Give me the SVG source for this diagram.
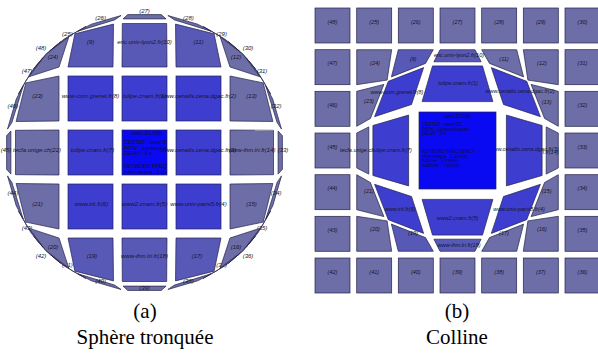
<svg xmlns="http://www.w3.org/2000/svg" width="598" height="353" viewBox="0 0 598 353">
<style>
.r0{fill:#0a0af2;stroke:#24244a;stroke-width:0.7}
.r1{fill:#3d3dcf;stroke:#24244a;stroke-width:0.7}
.r2{fill:#5858b6;stroke:#24244a;stroke-width:0.7}
.r3{fill:#6d6da8;stroke:#24244a;stroke-width:0.7}
.l{font-family:"Liberation Sans",Arial,sans-serif;font-style:italic;font-size:6px;fill:#15152a;text-anchor:middle}
.lb{font-family:"Liberation Sans",Arial,sans-serif;font-style:italic;font-size:5.5px;fill:#15152a;text-anchor:middle}
.ct{font-family:"Liberation Sans",Arial,sans-serif;font-size:5.2px;fill:#101030}
.ctb{font-family:"Liberation Sans",Arial,sans-serif;font-size:4.5px;fill:#101030}
.cap{font-family:"Liberation Serif","Times New Roman",serif;font-size:21px;fill:#000;text-anchor:middle}
</style>
<defs>
<clipPath id="clipA0"><rect x="122" y="130" width="45" height="45"/></clipPath>
</defs>
<rect width="598" height="353" fill="#fff"/>

<!-- ===== Panel (a) : Sphere tronquee ===== -->
<g id="panel-a">
<g id="a48"><polygon class="r3" points="46.2,54.2 60.7,41.6 46.2,54.2 33.6,68.7"/><text class="l" x="41" y="50">(48)</text></g>
<g id="a25"><polygon class="r3" points="64.2,39 86.1,26.4 72.1,34.3 49.6,51"/><text class="l" x="67.4" y="35.8">(25)</text></g>
<g id="a26"><polygon class="r3" points="91.3,24.2 121.1,15.5 114.6,19.9 78,31.2"/><text class="l" x="100.6" y="19.8">(26)</text></g>
<g id="a27"><polygon class="r3" points="127.7,14.6 161.3,14.6 166.1,18.9 123,18.9"/><text class="l" x="144.5" y="13">(27)</text></g>
<g id="a28"><polygon class="r3" points="167.9,15.5 197.7,24.2 211,31.2 174.4,19.9"/><text class="l" x="188.4" y="19.8">(28)</text></g>
<g id="a29"><polygon class="r3" points="202.9,26.4 224.8,39 239.4,51 216.9,34.3"/><text class="l" x="221.6" y="35.8">(29)</text></g>
<g id="a30"><polygon class="r3" points="228.3,41.6 242.8,54.2 255.4,68.7 242.8,54.2"/><text class="l" x="248" y="50">(30)</text></g>
<g id="a31"><polygon class="r3" points="246,57.6 258,72.2 270.6,94.1 262.7,80.1"/><text class="l" x="262" y="73">(31)</text></g>
<g id="a32"><polygon class="r3" points="272.8,99.3 281.5,129.1 277.1,122.6 265.8,86"/><text class="l" x="276.2" y="107.6">(32)</text></g>
<g id="a33"><polygon class="r3" points="282.4,135.7 282.4,169.3 278.1,174.1 278.1,131"/><text class="l" x="283" y="151.5">(33)</text></g>
<g id="a34"><polygon class="r3" points="272.8,205.7 281.5,175.9 277.1,182.4 265.8,219"/><text class="l" x="276.2" y="195.4">(34)</text></g>
<g id="a35"><polygon class="r3" points="246,247.4 258,232.8 270.6,210.9 262.7,224.9"/><text class="l" x="262" y="230">(35)</text></g>
<g id="a36"><polygon class="r3" points="228.3,263.4 242.8,250.8 255.4,236.3 242.8,250.8"/><text class="l" x="248" y="258">(36)</text></g>
<g id="a37"><polygon class="r3" points="202.9,278.6 224.8,266 239.4,254 216.9,270.7"/><text class="l" x="221.6" y="267.2">(37)</text></g>
<g id="a38"><polygon class="r3" points="167.9,289.5 197.7,280.8 211,273.8 174.4,285.1"/><text class="l" x="188.4" y="283.2">(38)</text></g>
<g id="a39"><polygon class="r3" points="127.7,290.4 161.3,290.4 166.1,286.1 123,286.1"/><text class="l" x="144.5" y="290">(39)</text></g>
<g id="a40"><polygon class="r3" points="91.3,280.8 121.1,289.5 114.6,285.1 78,273.8"/><text class="l" x="100.6" y="283.2">(40)</text></g>
<g id="a41"><polygon class="r3" points="64.2,266 86.1,278.6 72.1,270.7 49.6,254"/><text class="l" x="67.4" y="267.2">(41)</text></g>
<g id="a42"><polygon class="r3" points="46.2,250.8 60.7,263.4 46.2,250.8 33.6,236.3"/><text class="l" x="41" y="258">(42)</text></g>
<g id="a43"><polygon class="r3" points="31,232.8 43,247.4 26.3,224.9 18.4,210.9"/><text class="l" x="27" y="230">(43)</text></g>
<g id="a44"><polygon class="r3" points="16.2,205.7 7.5,175.9 11.9,182.4 23.2,219"/><text class="l" x="12.8" y="195.4">(44)</text></g>
<g id="a45"><polygon class="r3" points="6.6,135.7 6.6,169.3 10.9,174.1 10.9,131"/><text class="l" x="6" y="151.5">(45)</text></g>
<g id="a46"><polygon class="r3" points="16.2,99.3 7.5,129.1 11.9,122.6 23.2,86"/><text class="l" x="12.8" y="107.6">(46)</text></g>
<g id="a47"><polygon class="r3" points="31,72.2 43,57.6 26.3,80.1 18.4,94.1"/><text class="l" x="27" y="73">(47)</text></g>

<g id="a24"><polygon class="r3" points="46.2,54.2 68.8,36.9 59,67 28.9,76.8"/><text class="l" x="53" y="59">(24)</text></g>
<g id="a9"><polygon class="r2" points="74.9,33.8 113.5,24.1 113,67 68,67"/><text class="l" x="90.5" y="43.5">(9)</text></g>
<g id="a10"><polygon class="r2" points="122.3,23.5 166.7,23.5 167,67 122,67"/><text class="l" x="144.5" y="43.5">eric.univ-lyon2.fr(10)</text></g>
<g id="a11"><polygon class="r2" points="175.5,24.1 214.1,33.8 221,67 176,67"/><text class="l" x="198.5" y="43.5">(11)</text></g>
<g id="a12"><polygon class="r3" points="220.2,36.9 242.8,54.2 260.1,76.8 230,67"/><text class="l" x="236" y="59">(12)</text></g>
<g id="a23"><polygon class="r3" points="25.8,82.9 59,76 59,121 16.1,121.5"/><text class="l" x="37.5" y="97.5">(23)</text></g>
<g id="a13"><polygon class="r3" points="230,76 263.2,82.9 272.9,121.5 230,121"/><text class="l" x="251.5" y="97.5">(13)</text></g>
<g id="a22"><polygon class="r3" points="15.5,130.3 59,130 59,175 15.5,174.7"/><text class="l" x="37" y="151.5">tecfa.unige.ch(22)</text></g>
<g id="a21"><polygon class="r3" points="16.1,183.5 59,184 59,229 25.8,222.1"/><text class="l" x="37.5" y="205.5">(21)</text></g>
<g id="a15"><polygon class="r3" points="230,184 272.9,183.5 263.2,222.1 230,229"/><text class="l" x="251.5" y="205.5">(15)</text></g>
<g id="a20"><polygon class="r3" points="28.9,228.2 59,238 68.8,268.1 46.2,250.8"/><text class="l" x="53" y="249">(20)</text></g>
<g id="a19"><polygon class="r2" points="68,238 113,238 113.5,280.9 74.9,271.2"/><text class="l" x="92" y="258">(19)</text></g>
<g id="a18"><polygon class="r2" points="122,238 167,238 166.7,281.5 122.3,281.5"/><text class="l" x="144.5" y="258">www-ihm.lri.fr(18)</text></g>
<g id="a17"><polygon class="r2" points="176,238 221,238 214.1,271.2 175.5,280.9"/><text class="l" x="197" y="258">(17)</text></g>
<g id="a16"><polygon class="r3" points="230,238 260.1,228.2 242.8,250.8 220.2,268.1"/><text class="l" x="236" y="249">(16)</text></g>
<g id="a14"><polygon class="r3" points="230,130 273.5,130.3 273.5,174.7 230,175"/><text class="l" x="252" y="151.5">www-ihm.lri.fr(14)</text></g>

<g id="a8"><rect class="r1" x="68" y="76" width="45" height="45"/><text class="l" x="90.5" y="97.5">www-com.grenet.fr(8)</text></g>
<g id="a1"><rect class="r1" x="122" y="76" width="45" height="45"/><text class="l" x="144.5" y="97.5">tulipe.cnam.fr(1)</text></g>
<g id="a2"><rect class="r1" x="176" y="76" width="45" height="45"/><text class="l" x="198.5" y="97.5">www.cenatls.cena.dgac.fr(2)</text></g>
<g id="a7"><rect class="r1" x="68" y="130" width="45" height="45"/><text class="l" x="92.5" y="151.5">tulipe.cnam.fr(7)</text></g>
<g id="a0"><rect class="r0" x="122" y="130" width="45" height="45"/>
<text class="ct" x="147" y="135" text-anchor="middle">www.i3S.fr(0)</text>
<g clip-path="url(#clipA0)">
<text class="ct" x="124" y="144">CENTER : www.i3S</text>
<text class="ct" x="124" y="149.5">PATH : /contenu/equipe/</text>
<text class="ct" x="124" y="155">DELAY : 0 s</text>
<text class="ct" x="124" y="168">KEYWORD FREQUENCY :</text>
<text class="ct" x="124" y="173.5">informatique : 1 time(s)</text>
</g></g>
<g id="a3"><rect class="r1" x="176" y="130" width="45" height="45"/><text class="l" x="198.5" y="151.5">www.cenatls.cena.dgac.fr(3)</text></g>
<g id="a6"><rect class="r1" x="68" y="184" width="45" height="45"/><text class="l" x="91.5" y="205.5">www.irit.fr(6)</text></g>
<g id="a5"><rect class="r1" x="122" y="184" width="45" height="45"/><text class="l" x="144.5" y="205.5">www2.cnam.fr(5)</text></g>
<g id="a4"><rect class="r1" x="176" y="184" width="45" height="45"/><text class="l" x="198.5" y="205.5">www.univ-paris5.fr(4)</text></g>
</g>

<!-- ===== Panel (b) : Colline ===== -->
<g id="panel-b">
<g id="b48"><rect class="r3" x="315" y="8" width="35" height="35"/><text class="lb" x="332.5" y="23.5">(48)</text></g>
<g id="b25"><rect class="r3" x="356.7" y="8" width="35" height="35"/><text class="lb" x="374.2" y="23.5">(25)</text></g>
<g id="b26"><rect class="r3" x="398.3" y="8" width="35" height="35"/><text class="lb" x="415.8" y="23.5">(26)</text></g>
<g id="b27"><rect class="r3" x="440" y="8" width="35" height="35"/><text class="lb" x="457.5" y="23.5">(27)</text></g>
<g id="b28"><rect class="r3" x="481.7" y="8" width="35" height="35"/><text class="lb" x="499.2" y="23.5">(28)</text></g>
<g id="b29"><rect class="r3" x="523.3" y="8" width="35" height="35"/><text class="lb" x="540.8" y="23.5">(29)</text></g>
<g id="b30"><rect class="r3" x="565" y="8" width="35" height="35"/><text class="lb" x="582.5" y="23.5">(30)</text></g>
<g id="b31"><rect class="r3" x="565" y="49.7" width="35" height="35"/><text class="lb" x="582.5" y="65.2">(31)</text></g>
<g id="b32"><rect class="r3" x="565" y="91.3" width="35" height="35"/><text class="lb" x="582.5" y="106.8">(32)</text></g>
<g id="b33"><rect class="r3" x="565" y="133" width="35" height="35"/><text class="lb" x="582.5" y="148.5">(33)</text></g>
<g id="b34"><rect class="r3" x="565" y="174.7" width="35" height="35"/><text class="lb" x="582.5" y="190.2">(34)</text></g>
<g id="b35"><rect class="r3" x="565" y="216.3" width="35" height="35"/><text class="lb" x="582.5" y="231.8">(35)</text></g>
<g id="b36"><rect class="r3" x="565" y="258" width="35" height="35"/><text class="lb" x="582.5" y="273.5">(36)</text></g>
<g id="b37"><rect class="r3" x="523.3" y="258" width="35" height="35"/><text class="lb" x="540.8" y="273.5">(37)</text></g>
<g id="b38"><rect class="r3" x="481.7" y="258" width="35" height="35"/><text class="lb" x="499.2" y="273.5">(38)</text></g>
<g id="b39"><rect class="r3" x="440" y="258" width="35" height="35"/><text class="lb" x="457.5" y="273.5">(39)</text></g>
<g id="b40"><rect class="r3" x="398.3" y="258" width="35" height="35"/><text class="lb" x="415.8" y="273.5">(40)</text></g>
<g id="b41"><rect class="r3" x="356.7" y="258" width="35" height="35"/><text class="lb" x="374.2" y="273.5">(41)</text></g>
<g id="b42"><rect class="r3" x="315" y="258" width="35" height="35"/><text class="lb" x="332.5" y="273.5">(42)</text></g>
<g id="b43"><rect class="r3" x="315" y="216.3" width="35" height="35"/><text class="lb" x="332.5" y="231.8">(43)</text></g>
<g id="b44"><rect class="r3" x="315" y="174.7" width="35" height="35"/><text class="lb" x="332.5" y="190.2">(44)</text></g>
<g id="b45"><rect class="r3" x="315" y="133" width="35" height="35"/><text class="lb" x="332.5" y="148.5">(45)</text></g>
<g id="b46"><rect class="r3" x="315" y="91.3" width="35" height="35"/><text class="lb" x="332.5" y="106.8">(46)</text></g>
<g id="b47"><rect class="r3" x="315" y="49.7" width="35" height="35"/><text class="lb" x="332.5" y="65.2">(47)</text></g>

<g id="b24"><polygon class="r3" points="356.7,49.7 391.7,49.7 387.1,80.1 356.7,84.7"/><text class="lb" x="375" y="64.5">(24)</text></g>
<g id="b9"><polygon class="r2" points="398.3,49.7 433.3,49.7 425.5,63.4 391.4,76.9"/><text class="lb" x="413" y="60.5">(9)</text></g>
<g id="b10"><polygon class="r2" points="440,49.7 475,49.7 481.1,61.8 433.9,61.8"/><text class="lb" x="459" y="57">eric.univ-lyon2.fr(10)</text></g>
<g id="b11"><polygon class="r3" points="481.7,49.7 516.7,49.7 523.6,76.9 489.5,63.4"/><text class="lb" x="504" y="60.5">(11)</text></g>
<g id="b12"><polygon class="r3" points="523.3,49.7 558.3,49.7 558.3,84.7 527.9,80.1"/><text class="lb" x="542" y="64.5">(12)</text></g>
<g id="b13"><polygon class="r3" points="531.1,84.4 558.3,91.3 558.3,126.3 544.6,118.5"/><text class="lb" x="546.6" y="104">(13)</text></g>
<g id="b14"><polygon class="r3" points="546.2,126.9 558.3,133 558.3,168 546.2,174.1"/><text class="lb" x="537" y="153.5">www-ihm.lri.fr(14)</text></g>
<g id="b15"><polygon class="r3" points="544.6,182.5 558.3,174.7 558.3,209.7 531.1,216.6"/><text class="lb" x="546.6" y="192.5">(15)</text></g>
<g id="b16"><polygon class="r3" points="527.9,220.9 558.3,216.3 558.3,251.3 523.3,251.3"/><text class="lb" x="542" y="231">(16)</text></g>
<g id="b17"><polygon class="r3" points="489.5,237.6 523.6,224.1 516.7,251.3 481.7,251.3"/><text class="lb" x="504" y="235">(17)</text></g>
<g id="b18"><polygon class="r2" points="433.9,239.2 481.1,239.2 475,251.3 440,251.3"/><text class="lb" x="459" y="247">www-ihm.lri.fr(18)</text></g>
<g id="b19"><polygon class="r2" points="391.4,224.1 425.5,237.6 433.3,251.3 398.3,251.3"/><text class="lb" x="413" y="235">(19)</text></g>
<g id="b20"><polygon class="r3" points="356.7,216.3 387.1,220.9 391.7,251.3 356.7,251.3"/><text class="lb" x="375" y="231">(20)</text></g>
<g id="b21"><polygon class="r3" points="356.7,174.7 370.4,182.5 383.9,216.6 356.7,209.7"/><text class="lb" x="369" y="192.5">(21)</text></g>
<g id="b22"><polygon class="r3" points="356.7,133 368.8,126.9 368.8,174.1 356.7,168"/><text class="lb" x="362" y="152">tecfa.unige.ch(22)</text></g>
<g id="b23"><polygon class="r3" points="356.7,91.3 383.9,84.4 370.4,118.5 356.7,126.3"/><text class="lb" x="369" y="103">(23)</text></g>

<g id="b8"><polygon class="r1" points="388.3,81.3 423.65,67.6 411.5,104.5 374.6,116.65"/><text class="lb" x="397" y="94">www-com.grenet.fr(8)</text></g>
<g id="b1"><polygon class="r1" points="432.5,65.9 482.5,65.9 492.9,101.6 422.1,101.6"/><text class="lb" x="458" y="85">tulipe.cnam.fr(1)</text></g>
<g id="b2"><polygon class="r1" points="491.35,67.6 526.7,81.3 540.4,116.65 503.5,104.5"/><text class="lb" x="520" y="93">www.cenatls.cena.dgac.fr(2)</text></g>
<g id="b7"><polygon class="r1" points="372.9,125.5 408.6,115.1 408.6,185.9 372.9,175.5"/><text class="lb" x="392" y="152">tulipe.cnam.fr(7)</text></g>
<g id="b3"><polygon class="r1" points="506.4,115.1 542.1,125.5 542.1,175.5 506.4,185.9"/><text class="lb" x="524" y="150.5">www.cenatls.cena.dgac.fr(3)</text></g>
<g id="b6"><polygon class="r1" points="374.6,184.35 411.5,196.5 423.65,233.4 388.3,219.7"/><text class="lb" x="400" y="211">www.irit.fr(6)</text></g>
<g id="b5"><polygon class="r1" points="422.1,199.4 492.9,199.4 482.5,235.1 432.5,235.1"/><text class="lb" x="457.5" y="220">www2.cnam.fr(5)</text></g>
<g id="b4"><polygon class="r1" points="503.5,196.5 540.4,184.35 526.7,219.7 491.35,233.4"/><text class="lb" x="519" y="211">www.univ-paris5.fr(4)</text></g>
<g id="b0"><rect class="r0" x="419" y="112" width="77" height="77"/>
<text class="ctb" x="457.5" y="117.5" text-anchor="middle">www.i3S.fr(0)</text>
<text class="ctb" x="422" y="126">CENTER : www.i3S</text>
<text class="ctb" x="422" y="130.5">PATH : /contenu/equipe/</text>
<text class="ctb" x="422" y="135">DELAY : 0 s</text>
<text class="ctb" x="422" y="153">KEYWORD FREQUENCY :</text>
<text class="ctb" x="422" y="157.5">informatique : 1 time(s)</text>
<text class="ctb" x="422" y="162">homme : 3 time(s)</text>
<text class="ctb" x="422" y="166.5">machine : 7 time(s)</text>
</g>
</g>

<g id="captions">
<text class="cap" x="145" y="318">(a)</text>
<text class="cap" x="145" y="344">Sphère tronquée</text>
<text class="cap" x="457" y="318">(b)</text>
<text class="cap" x="457" y="344">Colline</text>
</g>
</svg>
